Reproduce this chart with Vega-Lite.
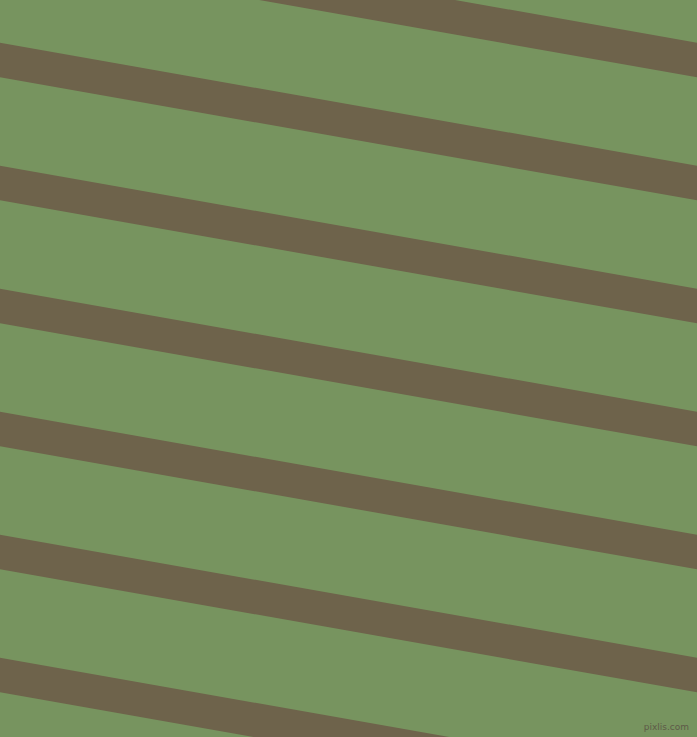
{
  "$schema": "https://vega.github.io/schema/vega-lite/v6.json",
  "width": 697,
  "height": 737,
  "autosize": {"type": "fit", "contains": "padding"},
  "padding": 0,
  "background": "#77945F",
  "config": {"view": {"stroke": null}},
  "datasets": {
    "stripes": [
      {"stripe": 1, "x1": -20, "y1": -66.5, "x2": 720, "y2": 64},
      {"stripe": 2, "x1": -20, "y1": 56.5, "x2": 720, "y2": 187},
      {"stripe": 3, "x1": -20, "y1": 179.5, "x2": 720, "y2": 310},
      {"stripe": 4, "x1": -20, "y1": 302.5, "x2": 720, "y2": 433},
      {"stripe": 5, "x1": -20, "y1": 425.5, "x2": 720, "y2": 556},
      {"stripe": 6, "x1": -20, "y1": 548.5, "x2": 720, "y2": 679},
      {"stripe": 7, "x1": -20, "y1": 671.5, "x2": 720, "y2": 802}
    ],
    "mark": [
      {"label": "pixlis.com", "x": 689, "y": 727}
    ]
  },
  "layer": [
    {
      "data": {"name": "stripes"},
      "mark": {"type": "rule", "clip": true, "color": "#6E634B", "strokeWidth": 34, "strokeCap": "butt"},
      "encoding": {
        "x": {"field": "x1", "type": "quantitative", "scale": {"domain": [0, 697], "nice": false, "zero": false}, "axis": null},
        "y": {"field": "y1", "type": "quantitative", "scale": {"domain": [0, 737], "nice": false, "zero": false, "reverse": true}, "axis": null},
        "x2": {"field": "x2"},
        "y2": {"field": "y2"}
      }
    },
    {
      "data": {"name": "mark"},
      "mark": {"type": "text", "align": "right", "baseline": "middle", "fontSize": 9, "font": "DejaVu Sans", "color": "#5E5A48"},
      "encoding": {
        "x": {"field": "x", "type": "quantitative", "axis": null},
        "y": {"field": "y", "type": "quantitative", "axis": null},
        "text": {"field": "label"}
      }
    }
  ]
}
